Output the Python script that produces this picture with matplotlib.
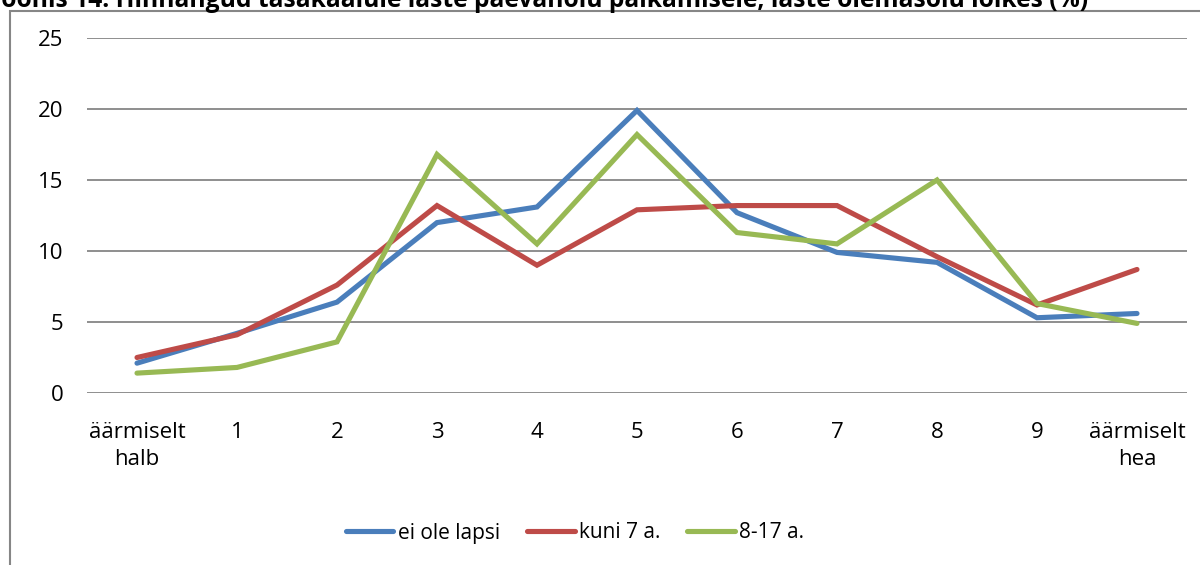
import matplotlib
matplotlib.use("Agg")
import matplotlib.pyplot as plt
from matplotlib.patches import Rectangle

categories = ["äärmiselt\nhalb", "1", "2", "3", "4", "5", "6", "7", "8", "9", "äärmiselt\nhea"]
ei_ole_lapsi = [2.1, 4.2, 6.4, 12.0, 13.1, 19.9, 12.7, 9.9, 9.2, 5.3, 5.6]
kuni_7 = [2.5, 4.1, 7.6, 13.2, 9.0, 12.9, 13.2, 13.2, 9.6, 6.2, 8.7]
vanus_8_17 = [1.4, 1.8, 3.6, 16.8, 10.5, 18.2, 11.3, 10.5, 15.0, 6.3, 4.9]
series_names = ["ei ole lapsi", "kuni 7 a.", "8-17 a."]
colors = ["#4A7EBB", "#BE4B48", "#98B954"]
yticks = [0, 5, 10, 15, 20, 25]
title = "Joonis 14. Hinnangud tasakaalule laste päevahoiu paikamisele, laste olemasolu lõikes (%)"

plt.rcParams['font.family'] = ['Open Sans', 'DejaVu Sans']

fig = plt.figure(figsize=(12, 5.65), dpi=100)
ax = fig.add_axes([87 / 1200, 1 - 393 / 565, 1100 / 1200, 355 / 565])

x = range(len(categories))
for vals, name, c in zip([ei_ole_lapsi, kuni_7, vanus_8_17], series_names, colors):
    ax.plot(x, vals, color=c, lw=3.7, label=name, solid_capstyle='round', solid_joinstyle='miter')

ax.set_xlim(-0.5, len(categories) - 0.5)
ax.set_ylim(0, 25)
ax.set_yticks(yticks)
ax.set_xticks(list(x))
ax.set_xticklabels(categories, fontsize=16, linespacing=1.35)
ax.tick_params(axis='y', length=0, pad=17, labelsize=16)
ax.tick_params(axis='x', length=0, pad=21)
ax.grid(axis='y', color='#868686', lw=1.3)
ax.set_axisbelow(True)
for s in ax.spines.values():
    s.set_visible(False)

leg = fig.legend(loc='center', bbox_to_anchor=(575 / 1200, 1 - 533 / 565), ncol=3, frameon=False,
                 fontsize=15, handlelength=2.3, handletextpad=0.2, columnspacing=1.3)

# chart border (cut off on right and bottom)
fig.patches.append(Rectangle((10 / 1200, -0.1), 2, 1.1 - 11 / 565, transform=fig.transFigure,
                             fill=False, edgecolor='#868686', lw=1.5))

fig.text(-6 / 1200, 1 - 7 / 565, title, fontsize=17.7, fontweight='bold', va='baseline', ha='left')

fig.savefig("out.png", dpi=100)
